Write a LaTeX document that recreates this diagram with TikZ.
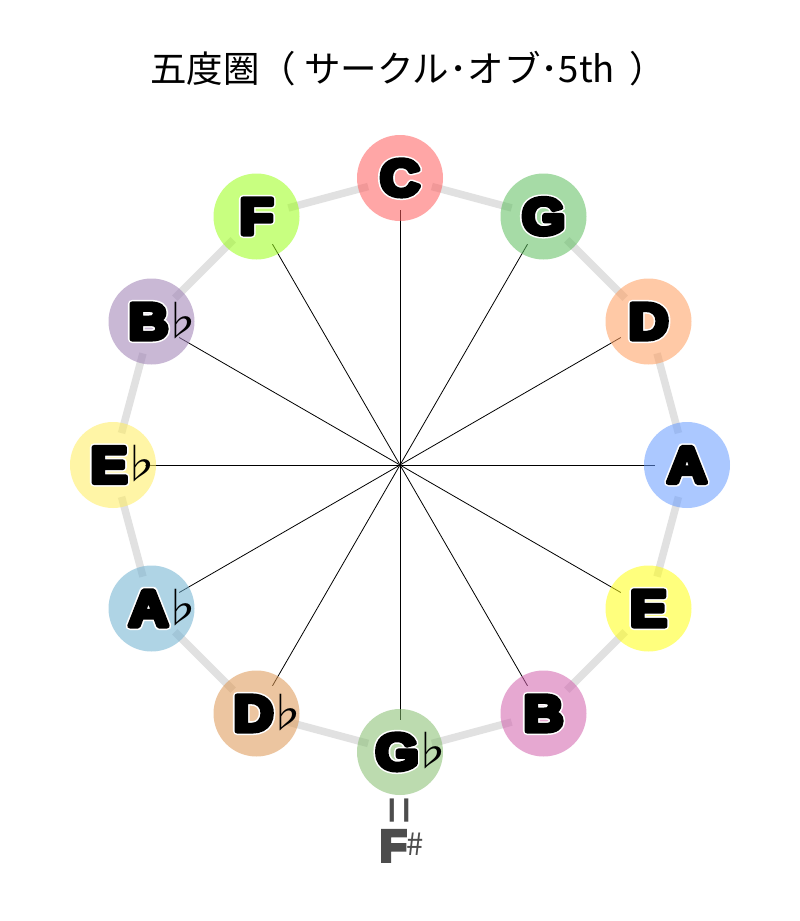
\documentclass[tikz,border=0pt]{standalone}
\usepackage{fontspec}
\usepackage{graphicx}
\setmainfont{Liberation Sans}
\newfontfamily\titlefont{Noto Sans CJK JP}
\newfontfamily\letterblack{Liberation Sans Bold}[FakeBold=10]
\newfontfamily\letterwhite{Liberation Sans Bold}[FakeBold=16]
\newfontfamily\flatfont{Noto Sans CJK JP}
\newfontfamily\enhfont{Liberation Sans Bold}[FakeBold=8]
\newfontfamily\sharpfont{Noto Sans CJK JP}

\definecolor{rimgray}{RGB}{225,225,225}
\definecolor{enhgray}{RGB}{77,77,77}
\definecolor{cC}{RGB}{255,93,93}
\definecolor{cG}{RGB}{93,190,93}
\definecolor{cD}{RGB}{255,157,93}
\definecolor{cA}{RGB}{102,155,255}
\definecolor{cE}{RGB}{255,255,19}
\definecolor{cB}{RGB}{210,97,173}
\definecolor{cGb}{RGB}{133,190,111}
\definecolor{cDb}{RGB}{222,151,82}
\definecolor{cAb}{RGB}{111,177,209}
\definecolor{cEb}{RGB}{255,237,93}
\definecolor{cBb}{RGB}{157,126,180}
\definecolor{cF}{RGB}{155,255,24}

\pgfdeclarelayer{paper}
\pgfdeclarelayer{under}
\pgfsetlayers{paper,under,main}

\tikzset{
  notedisc/.style={circle, minimum size=86pt, inner sep=0pt, draw=none, fill opacity=0.55},
  rim/.style={line width=7.5pt, draw=rimgray, shorten <=33pt, shorten >=33pt},
  spoke/.style={line width=0.8pt, draw=black, shorten >=32pt},
  labw/.style={anchor=base, inner sep=0pt, text=white, line join=round},
  labb/.style={anchor=base, inner sep=0pt, text=black, line join=round},
}

% #1 node name, #2 letter, #3 flat sign (or empty), #4 horizontal shift
\newcommand\notelab[4]{%
  \node[labw] (#1-w) at ([xshift=#4pt, yshift=-17.5pt]#1.center)
    {\pgfsetroundjoin\fontsize{51pt}{51pt}\letterwhite\scalebox{1.08}[1]{#2}};
  \node[labb] (#1-t) at ([xshift=#4pt, yshift=-17.5pt]#1.center)
    {\pgfsetroundjoin\fontsize{51pt}{51pt}\letterblack\scalebox{1.08}[1]{#2}\rlap{\kern-8pt\fontsize{42pt}{42pt}\flatfont\raisebox{3pt}{#3}}};
}

\begin{document}
\begin{tikzpicture}[x=1pt,y=-1pt]
\begin{pgfonlayer}{paper}
  \fill[white] (0,0) rectangle (800,921);
\end{pgfonlayer}
\useasboundingbox (0,0) rectangle (800,921);

\node[inner sep=0pt, anchor=base west] (title) at (150,82)
  {\titlefont\fontsize{36.5pt}{36.5pt}\selectfont 五度圏（ サークル･オブ･5th\hspace{6pt} ）};

\coordinate (O) at (400,465);

\node[notedisc, fill=cC]  (C)  at (400,178) {};
\node[notedisc, fill=cG]  (G)  at (543.5,216.5) {};
\node[notedisc, fill=cD]  (D)  at (648.5,321.5) {};
\node[notedisc, fill=cA]  (A)  at (687,465) {};
\node[notedisc, fill=cE]  (E)  at (648.5,608.5) {};
\node[notedisc, fill=cB]  (B)  at (543.5,713.5) {};
\node[notedisc, fill=cGb] (Gb) at (400,752) {};
\node[notedisc, fill=cDb] (Db) at (256.5,713.5) {};
\node[notedisc, fill=cAb] (Ab) at (151.5,608.5) {};
\node[notedisc, fill=cEb] (Eb) at (113,465) {};
\node[notedisc, fill=cBb] (Bb) at (151.5,321.5) {};
\node[notedisc, fill=cF]  (F)  at (256.5,216.5) {};

\begin{pgfonlayer}{under}
  \draw[rim] (C.center) -- (G.center);
  \draw[rim] (G.center) -- (D.center);
  \draw[rim] (D.center) -- (A.center);
  \draw[rim] (A.center) -- (E.center);
  \draw[rim] (E.center) -- (B.center);
  \draw[rim] (B.center) -- (Gb.center);
  \draw[rim] (Gb.center) -- (Db.center);
  \draw[rim] (Db.center) -- (Ab.center);
  \draw[rim] (Ab.center) -- (Eb.center);
  \draw[rim] (Eb.center) -- (Bb.center);
  \draw[rim] (Bb.center) -- (F.center);
  \draw[rim] (F.center) -- (C.center);
  \foreach \n in {C,G,D,A,E,B,Gb,Db,Ab,Eb,Bb,F}
    \draw[spoke] (O) -- (\n.center);
\end{pgfonlayer}

\notelab{C}{C}{}{0}
\notelab{G}{G}{}{0}
\notelab{D}{D}{}{0}
\notelab{A}{A}{}{0}
\notelab{E}{E}{}{0}
\notelab{B}{B}{}{0}
\notelab{F}{F}{}{0}
\notelab{Gb}{G}{♭}{-3}
\notelab{Db}{D}{♭}{-3}
\notelab{Ab}{A}{♭}{-3}
\notelab{Eb}{E}{♭}{-4}
\notelab{Bb}{B}{♭}{-3}

\node[rotate=90, inner sep=0pt, text=enhgray] (eq) at (404,811)
  {\fontsize{33pt}{33pt}\selectfont\scalebox{1.45}[1.75]{=}};
\node[anchor=base, inner sep=0pt, text=enhgray] (fsharp) at (402,861)
  {\fontsize{44pt}{44pt}\enhfont F\fontsize{31pt}{31pt}\sharpfont\raisebox{6pt}{\#}};
\end{tikzpicture}
\end{document}
